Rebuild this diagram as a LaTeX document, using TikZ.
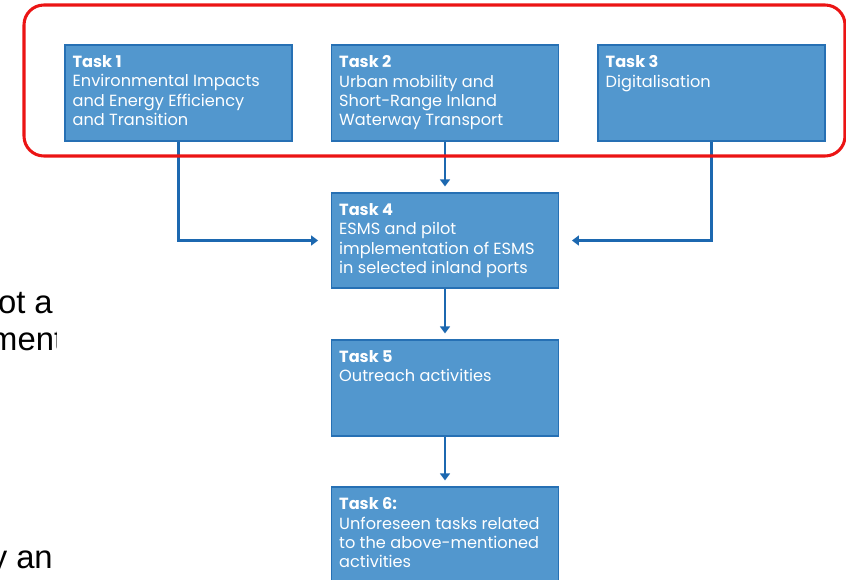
\documentclass[tikz,border=0pt]{standalone}
\usepackage{fontspec}
\setmainfont{Poppins}
\newfontfamily\slidefont{Liberation Sans}
\usetikzlibrary{arrows.meta}

\definecolor{taskfill}{RGB}{82,151,206}
\definecolor{taskline}{RGB}{38,112,180}
\definecolor{flowblue}{RGB}{28,104,176}
\definecolor{groupred}{RGB}{235,20,20}

\begin{document}
\begin{tikzpicture}[x=0.03cm, y=-0.03cm,
	task/.style={draw=taskline, line width=1.2pt, fill=taskfill, minimum width=6.8cm, minimum height=2.88cm, inner sep=0pt},
	tasktext/.style={anchor=north west, inner sep=0pt, text=white, align=left, font=\fontsize{13.8}{16.6}\selectfont},
	flow/.style={draw=flowblue, line width=2.2pt, -{Triangle[length=6pt,width=8.5pt]}, shorten >=5pt},
	slide/.style={inner sep=0pt, font=\slidefont\fontsize{28}{32}\selectfont}]

\clip (0,0) rectangle (846,579);

% slide text behind the picture
\begin{scope}
	\clip (0,0) rectangle (56,579);
	\node[slide, anchor=base east] (s1) at (53,313) {ot a};
	\node[slide, anchor=base west] (s2) at (-10,350) {ment};
	\node[slide, anchor=base east] (s3) at (53,568) {y an};
\end{scope}

% tasks
\node[task] (t1) at (178.5,93) {};
\node[task] (t2) at (445,93) {};
\node[task] (t3) at (711.5,93) {};
\node[task, minimum height=2.85cm] (t4) at (445,240.5) {};
\node[task] (t5) at (445,388) {};
\node[task] (t6) at (445,535) {};

\node[tasktext] (t1txt) at ([shift={(8,11)}]t1.north west) {\textbf{Task 1}\\Environmental Impacts\\and Energy Efficiency\\and Transition};
\node[tasktext] (t2txt) at ([shift={(8,11)}]t2.north west) {\textbf{Task 2}\\Urban mobility and\\Short-Range Inland\\Waterway Transport};
\node[tasktext] (t3txt) at ([shift={(8,11)}]t3.north west) {\textbf{Task 3}\\Digitalisation};
\node[tasktext] (t4txt) at ([shift={(8,11)}]t4.north west) {\textbf{Task 4}\\ESMS and pilot\\implementation of ESMS\\in selected inland ports};
\node[tasktext] (t5txt) at ([shift={(8,11)}]t5.north west) {\textbf{Task 5}\\Outreach activities};
\node[tasktext] (t6txt) at ([shift={(8,11)}]t6.north west) {\textbf{Task 6:}\\Unforeseen tasks related\\to the above-mentioned\\activities};

% arrows
\draw[flow, shorten >=11pt] (t1) |- (t4);
\draw[flow, shorten >=11pt] (t3) |- (t4);
\draw[flow] (t2) -- (t4);
\draw[flow] (t4) -- (t5);
\draw[flow] (t5) -- (t6);

% group of the first three tasks
\draw[groupred, line width=2.6pt, rounded corners=17pt] (24,5) rectangle (845,156);
\end{tikzpicture}
\end{document}
